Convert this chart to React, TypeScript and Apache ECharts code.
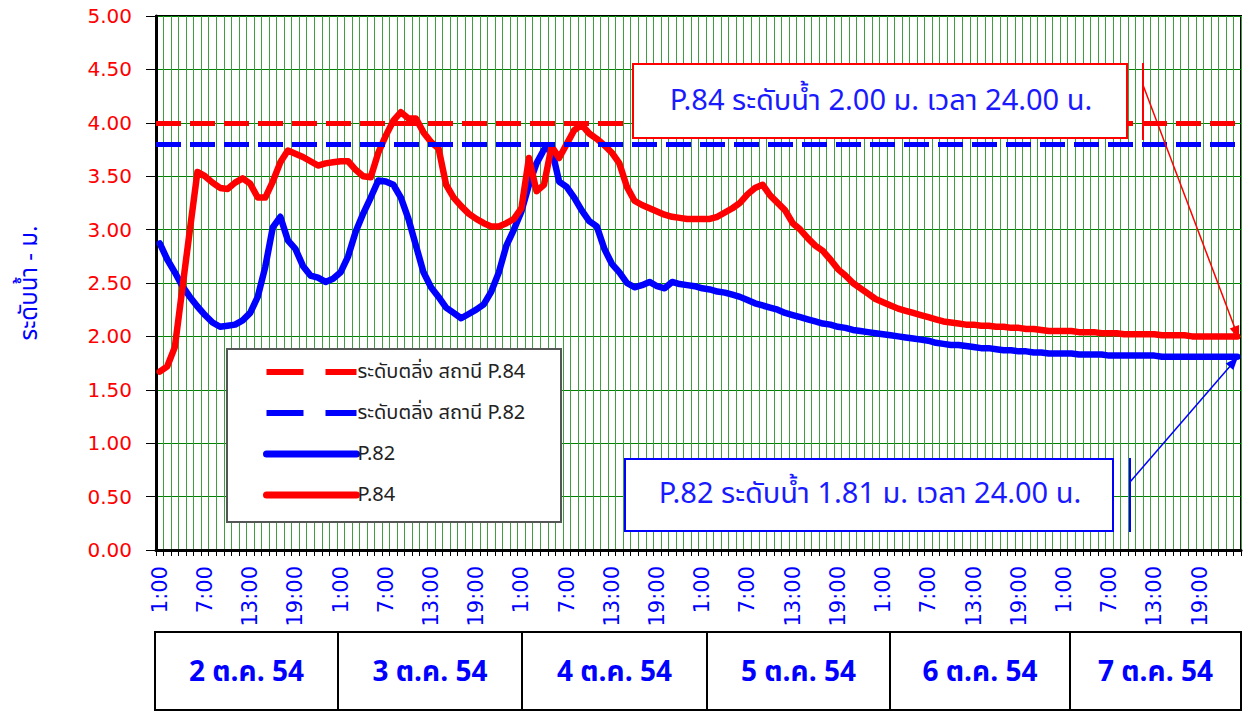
import React, { useEffect, useRef } from "react";
import * as echarts from "echarts";

const HOURS = [
  "1:00", "2:00", "3:00", "4:00", "5:00", "6:00", "7:00", "8:00", "9:00", "10:00", "11:00", "12:00",
  "13:00", "14:00", "15:00", "16:00", "17:00", "18:00", "19:00", "20:00", "21:00", "22:00", "23:00", "24:00",
];
const DAYS = ["2 ต.ค. 54", "3 ต.ค. 54", "4 ต.ค. 54", "5 ต.ค. 54", "6 ต.ค. 54", "7 ต.ค. 54"];
const CATEGORIES: string[] = DAYS.flatMap(() => HOURS);

const Y_TICKS = [0, 0.5, 1, 1.5, 2, 2.5, 3, 3.5, 4, 4.5, 5];

const BANK_P84 = 4.0;
const BANK_P82 = 3.8;

// P.82 hourly water level (m), 2-7 Oct 2011
const P82 = [
  2.87, 2.72, 2.60, 2.47, 2.37, 2.28, 2.20, 2.13, 2.09, 2.10, 2.11, 2.15,
  2.22, 2.37, 2.65, 3.02, 3.12, 2.90, 2.82, 2.66, 2.57, 2.55, 2.51, 2.54,
  2.60, 2.75, 2.98, 3.15, 3.30, 3.46, 3.45, 3.42, 3.30, 3.10, 2.85, 2.60,
  2.46, 2.37, 2.27, 2.22, 2.17, 2.21, 2.25, 2.30, 2.42, 2.60, 2.85, 3.00,
  3.17, 3.42, 3.62, 3.75, 3.76, 3.45, 3.40, 3.30, 3.18, 3.08, 3.03, 2.82,
  2.68, 2.60, 2.50, 2.46, 2.48, 2.51, 2.47, 2.45, 2.51, 2.49, 2.48, 2.47,
  2.45, 2.44, 2.42, 2.41, 2.39, 2.37, 2.34, 2.31, 2.29, 2.27, 2.25, 2.22,
  2.20, 2.18, 2.16, 2.14, 2.12, 2.11, 2.09, 2.08, 2.06, 2.05, 2.04, 2.03,
  2.02, 2.01, 2.00, 1.99, 1.98, 1.97, 1.96, 1.94, 1.93, 1.92, 1.92, 1.91,
  1.90, 1.89, 1.89, 1.88, 1.87, 1.87, 1.86, 1.86, 1.85, 1.85, 1.84, 1.84,
  1.84, 1.84, 1.83, 1.83, 1.83, 1.83, 1.82, 1.82, 1.82, 1.82, 1.82, 1.82,
  1.82, 1.81, 1.81, 1.81, 1.81, 1.81, 1.81, 1.81, 1.81, 1.81, 1.81, 1.81,
];

// P.84 hourly water level (m), 2-7 Oct 2011
const P84 = [
  1.67, 1.72, 1.90, 2.45, 3.00, 3.54, 3.50, 3.44, 3.39, 3.38, 3.44, 3.48,
  3.43, 3.30, 3.30, 3.45, 3.63, 3.74, 3.71, 3.68, 3.64, 3.60, 3.62, 3.63,
  3.64, 3.64, 3.56, 3.50, 3.49, 3.72, 3.88, 4.02, 4.10, 4.04, 4.04, 3.91,
  3.82, 3.76, 3.42, 3.30, 3.22, 3.15, 3.10, 3.06, 3.03, 3.03, 3.06, 3.10,
  3.20, 3.67, 3.36, 3.42, 3.78, 3.67, 3.80, 3.93, 3.98, 3.90, 3.85, 3.79,
  3.72, 3.62, 3.40, 3.27, 3.23, 3.20, 3.17, 3.14, 3.12, 3.11, 3.10, 3.10,
  3.10, 3.10, 3.12, 3.16, 3.20, 3.25, 3.33, 3.39, 3.42, 3.32, 3.25, 3.18,
  3.06, 3.00, 2.92, 2.85, 2.80, 2.72, 2.63, 2.57, 2.50, 2.45, 2.40, 2.35,
  2.32, 2.29, 2.26, 2.24, 2.22, 2.20, 2.18, 2.16, 2.14, 2.13, 2.12, 2.11,
  2.11, 2.10, 2.10, 2.09, 2.09, 2.08, 2.08, 2.07, 2.07, 2.06, 2.05, 2.05,
  2.05, 2.05, 2.04, 2.04, 2.04, 2.03, 2.03, 2.03, 2.02, 2.02, 2.02, 2.02,
  2.02, 2.01, 2.01, 2.01, 2.01, 2.00, 2.00, 2.00, 2.00, 2.00, 2.00, 2.00,
];

const NAME_BANK84 = "ระดับตลิ่ง สถานี P.84";
const NAME_BANK82 = "ระดับตลิ่ง สถานี P.82";
const NAME_P82 = "P.82";
const NAME_P84 = "P.84";

const FONT = "'Noto Sans Thai', Tahoma, 'DejaVu Sans', 'Noto Sans', sans-serif";
const BLUE = "#0000ff";
const RED = "#ff0000";
const GREEN = "#008000";

function arrowHead(x1: number, y1: number, x2: number, y2: number, len: number, half: number) {
  const dx = x2 - x1;
  const dy = y2 - y1;
  const l = Math.sqrt(dx * dx + dy * dy);
  const ux = dx / l;
  const uy = dy / l;
  const bx = x2 - ux * len;
  const by = y2 - uy * len;
  return [
    [x2, y2],
    [bx - uy * half, by + ux * half],
    [bx + uy * half, by - ux * half],
  ];
}

export default function App() {
  const ref = useRef<HTMLDivElement>(null);

  useEffect(() => {
    if (!ref.current) return;
    const chart = echarts.init(ref.current, null, { renderer: "svg" });

    const dayEdges = [155, 338, 522, 707, 890, 1070, 1241];
    const dayGraphics: any[] = [];
    DAYS.forEach((d, i) => {
      const x0 = dayEdges[i];
      const x1 = dayEdges[i + 1];
      dayGraphics.push({
        type: "rect",
        shape: { x: x0, y: 632, width: x1 - x0, height: 78 },
        style: { fill: "#fff", stroke: "#000", lineWidth: 2 },
      });
      dayGraphics.push({
        type: "text",
        x: (x0 + x1) / 2,
        y: 672,
        style: {
          text: d,
          fill: BLUE,
          font: `bold 28px ${FONT}`,
          align: "center",
          verticalAlign: "middle",
        },
      });
    });

    const last84 = P84[P84.length - 1].toFixed(2);
    const last82 = P82[P82.length - 1].toFixed(2);
    const redHead = arrowHead(1143, 85, 1239, 339, 13, 5);
    const blueHead = arrowHead(1130, 482, 1238, 357, 13, 5);

    const dashLegend = { width: 6, type: [37, 22], cap: "butt", opacity: 1 };
    const solidLegend = { width: 7, type: "solid", cap: "round", opacity: 1 };

    const option: any = {
      animation: false,
      backgroundColor: "#fff",
      textStyle: { fontFamily: FONT },
      grid: {
        left: 156,
        top: 16,
        width: 1085,
        height: 534,
        show: true,
        borderColor: "#000",
        borderWidth: 2,
        backgroundColor: "#fff",
      },
      legend: {
        orient: "vertical",
        left: 227,
        top: 349,
        z: 6,
        data: [
          { name: NAME_BANK84, lineStyle: { ...dashLegend, color: RED } },
          { name: NAME_BANK82, lineStyle: { ...dashLegend, color: BLUE } },
          { name: NAME_P82, lineStyle: { ...solidLegend, color: BLUE } },
          { name: NAME_P84, lineStyle: { ...solidLegend, color: RED } },
        ],
        itemStyle: { opacity: 0 },
        itemWidth: 90,
        itemHeight: 14,
        itemGap: 21,
        padding: [13, 10, 21, 36],
        textStyle: { color: "#222", fontSize: 20, fontFamily: FONT, padding: [8, 0, 0, -4] },
        selectedMode: false,
      },
      xAxis: {
        type: "category",
        data: CATEGORIES,
        boundaryGap: true,
        axisLine: { lineStyle: { color: "#000", width: 3 } },
        axisTick: { show: true, interval: 0, length: 6, lineStyle: { color: "#000", width: 1 } },
        axisLabel: {
          interval: 5,
          rotate: 90,
          color: BLUE,
          fontSize: 21,
          fontFamily: "'DejaVu Sans', sans-serif",
          margin: 16,
        },
        splitLine: { show: true, interval: 0, lineStyle: { color: "#3f9f3f", width: 1 } },
      },
      yAxis: {
        type: "value",
        min: Y_TICKS[0],
        max: Y_TICKS[Y_TICKS.length - 1],
        interval: Y_TICKS[1] - Y_TICKS[0],
        name: "ระดับน้ำ - ม.",
        nameLocation: "middle",
        nameRotate: 90,
        nameGap: 114,
        nameTextStyle: { color: BLUE, fontSize: 24, fontFamily: FONT },
        axisLine: { show: true, lineStyle: { color: "#000", width: 3 } },
        axisTick: { show: true, length: 10, lineStyle: { color: "#000", width: 1 } },
        axisLabel: {
          color: RED,
          fontSize: 20,
          fontFamily: "'DejaVu Sans', sans-serif",
          margin: 24,
          formatter: (v: number) => v.toFixed(2),
        },
        splitLine: { show: true, lineStyle: { color: GREEN, width: 1 } },
      },
      series: [
        {
          name: NAME_BANK84,
          type: "line",
          data: [],
          symbol: "none",
          z: 3,
          lineStyle: { color: RED, width: 5, type: [25, 9] },
          itemStyle: { color: RED },
          markLine: {
            silent: true,
            symbol: ["none", "none"],
            label: { show: false },
            lineStyle: { color: RED, width: 5, type: [25, 9] },
            data: [{ yAxis: BANK_P84 }],
          },
        },
        {
          name: NAME_BANK82,
          type: "line",
          data: [],
          symbol: "none",
          z: 3,
          lineStyle: { color: BLUE, width: 5, type: [25, 9] },
          itemStyle: { color: BLUE },
          markLine: {
            silent: true,
            symbol: ["none", "none"],
            label: { show: false },
            lineStyle: { color: BLUE, width: 5, type: [25, 9] },
            data: [{ yAxis: BANK_P82 }],
          },
        },
        {
          name: NAME_P82,
          type: "line",
          data: P82,
          symbol: "none",
          z: 3,
          lineStyle: { color: BLUE, width: 6.5, join: "round", cap: "round" },
          itemStyle: { color: BLUE },
        },
        {
          name: NAME_P84,
          type: "line",
          data: P84,
          symbol: "none",
          z: 4,
          lineStyle: { color: RED, width: 6.5, join: "round", cap: "round" },
          itemStyle: { color: RED },
        },
      ],
      graphic: [
        {
          type: "rect",
          z: 5,
          shape: { x: 227, y: 349, width: 334, height: 173 },
          style: { fill: "#fff", stroke: "#555", lineWidth: 2 },
        },
        {
          type: "rect",
          z: 10,
          shape: { x: 633, y: 64, width: 494, height: 74 },
          style: { fill: "#fff", stroke: RED, lineWidth: 2 },
        },
        {
          type: "text",
          z: 11,
          x: 881,
          y: 101,
          style: {
            text: `P.84 ระดับน้ำ ${last84} ม. เวลา 24.00 น.`,
            fill: "#1a1aff",
            font: `29px ${FONT}`,
            align: "center",
            verticalAlign: "middle",
          },
        },
        {
          type: "rect",
          z: 10,
          shape: { x: 625, y: 459, width: 488, height: 72 },
          style: { fill: "#fff", stroke: BLUE, lineWidth: 2 },
        },
        {
          type: "text",
          z: 11,
          x: 870,
          y: 494,
          style: {
            text: `P.82 ระดับน้ำ ${last82} ม. เวลา 24.00 น.`,
            fill: "#1a1aff",
            font: `29px ${FONT}`,
            align: "center",
            verticalAlign: "middle",
          },
        },
        {
          type: "line",
          z: 10,
          shape: { x1: 1143, y1: 63, x2: 1143, y2: 140 },
          style: { stroke: RED, lineWidth: 2 },
        },
        {
          type: "line",
          z: 10,
          shape: { x1: 1143, y1: 85, x2: 1239, y2: 339 },
          style: { stroke: RED, lineWidth: 1.5 },
        },
        {
          type: "polygon",
          z: 10,
          shape: { points: redHead },
          style: { fill: RED },
        },
        {
          type: "line",
          z: 10,
          shape: { x1: 1130, y1: 458, x2: 1130, y2: 532 },
          style: { stroke: BLUE, lineWidth: 2 },
        },
        {
          type: "line",
          z: 10,
          shape: { x1: 1130, y1: 482, x2: 1238, y2: 357 },
          style: { stroke: BLUE, lineWidth: 1.5 },
        },
        {
          type: "polygon",
          z: 10,
          shape: { points: blueHead },
          style: { fill: BLUE },
        },
        ...dayGraphics,
      ],
    };

    chart.setOption(option);
    return () => chart.dispose();
  }, []);

  return (
    <div
      ref={ref}
      style={{ position: "absolute", left: 0, top: 0, width: 1245, height: 712 }}
    />
  );
}
